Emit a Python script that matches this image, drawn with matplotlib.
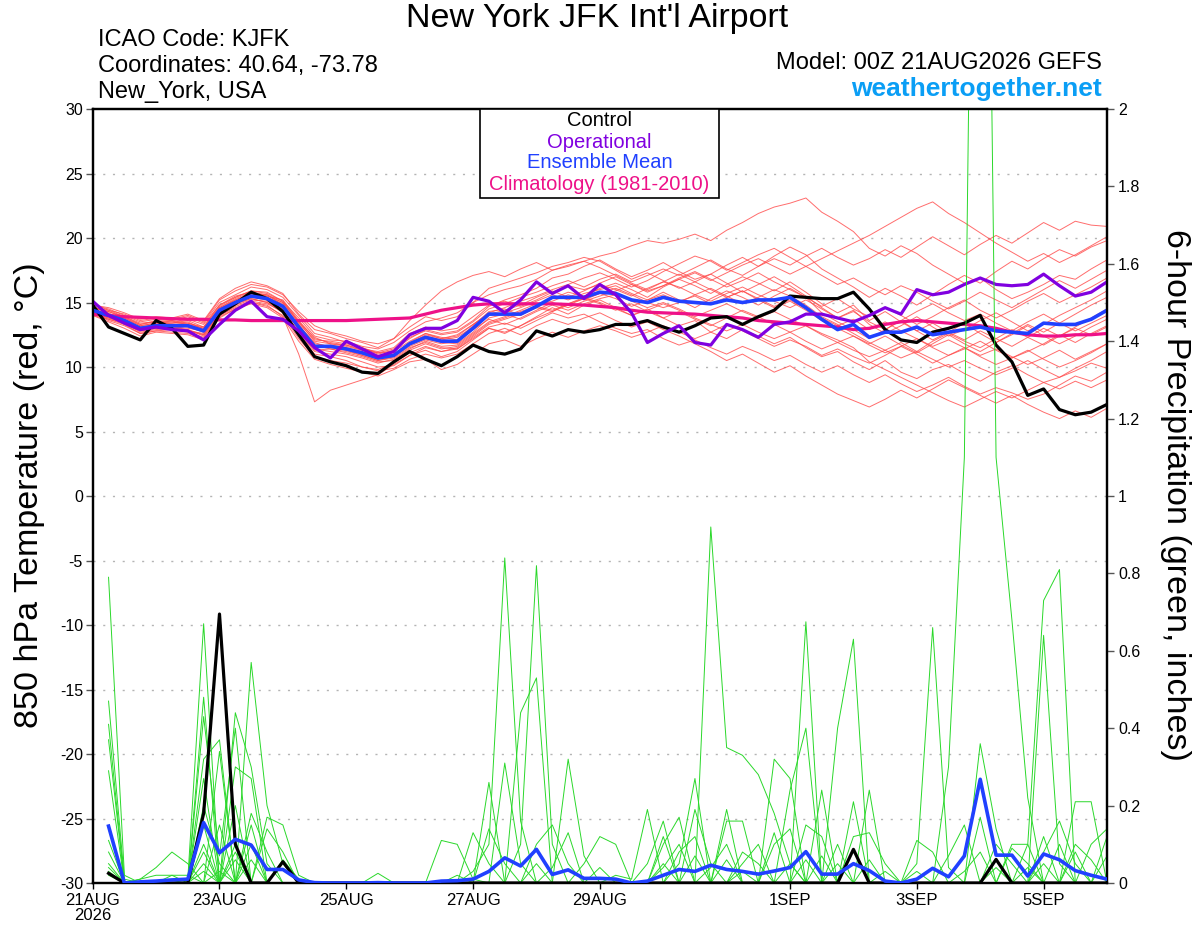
import numpy as np
import matplotlib.pyplot as plt
from matplotlib.patches import Rectangle

plt.rcParams['font.family'] = ['Liberation Sans', 'DejaVu Sans']

"""
DATA  (6-hourly, hour 0 = 00Z 21AUG2026)
"""

hours = np.arange(0, 385, 6)
precip_hours = hours[1:]

x_tick_hours = [0, 48, 96, 144, 192, 264, 312, 360]
x_tick_labels = ['21AUG\n2026', '23AUG', '25AUG', '27AUG', '29AUG', '1SEP', '3SEP', '5SEP']
t_ticks = list(range(-30, 31, 5))
p_ticks = [0, 0.2, 0.4, 0.6, 0.8, 1.0, 1.2, 1.4, 1.6, 1.8, 2.0]
p_tick_labels = ['0', '0.2', '0.4', '0.6', '0.8', '1', '1.2', '1.4', '1.6', '1.8', '2']

control_t = [14.8, 13.1, 12.6, 12.1, 13.6, 13.0, 11.6, 11.7, 14.1, 14.9, 15.8, 15.3, 14.3,
             12.5, 10.8, 10.4, 10.1, 9.6, 9.5, 10.4, 11.2, 10.6, 10.1, 10.8, 11.7,
             11.2, 11.0, 11.4, 12.8, 12.4, 12.9, 12.7, 12.9,
             13.3, 13.3, 13.6, 13.1, 12.7, 13.2, 13.8, 13.9,
             13.3, 13.9, 14.4, 15.5, 15.4, 15.3, 15.3, 15.8,
             14.5, 12.9, 12.1, 11.9, 12.7, 13.0, 13.4, 14.0,
             11.7, 10.4, 7.8, 8.3, 6.7, 6.3, 6.5, 7.1]

oper_t = [15.1, 14.0, 13.4, 12.9, 13.1, 12.9, 12.8, 12.1, 13.3, 14.4, 15.1, 13.9, 13.7,
          12.8, 11.5, 10.7, 12.0, 11.4, 10.8, 11.2, 12.5, 13.0, 13.0, 13.6, 15.4,
          15.1, 14.2, 15.2, 16.6, 15.7, 16.3, 15.3, 16.4,
          15.6, 14.2, 11.9, 12.6, 13.2, 11.9, 11.7, 13.3,
          12.9, 12.3, 13.3, 13.5, 14.1, 14.1, 13.8, 13.5,
          14.0, 14.6, 14.1, 16.0, 15.6, 15.8, 16.4, 16.9,
          16.4, 16.3, 16.4, 17.2, 16.3, 15.5, 15.8, 16.6]

mean_t = [14.4, 14.0, 13.6, 13.0, 13.2, 13.2, 13.2, 12.8, 14.4, 15.0, 15.5, 15.3, 14.7,
          13.1, 11.6, 11.6, 11.4, 11.1, 10.7, 10.9, 11.8, 12.3, 12.0, 12.0, 13.0,
          14.1, 14.1, 14.1, 14.7, 15.4, 15.4, 15.4, 15.8,
          15.7, 15.2, 15.0, 15.4, 15.1, 15.0, 14.9, 15.2,
          15.0, 15.2, 15.2, 15.4, 14.6, 13.7, 12.9, 13.3,
          12.3, 12.7, 12.7, 13.1, 12.5, 12.7, 12.9, 13.1,
          12.8, 12.7, 12.6, 13.4, 13.3, 13.3, 13.7, 14.4]

clim_t = [14.1, 14.0, 13.9, 13.85, 13.8, 13.75, 13.7, 13.7, 13.65, 13.65,
          13.6, 13.6, 13.6, 13.6, 13.6, 13.6, 13.6, 13.65, 13.7, 13.75,
          13.8, 14.1, 14.4, 14.6, 14.8, 14.9, 14.9, 14.9, 14.9, 14.9,
          14.85, 14.8, 14.7, 14.6, 14.4, 14.25, 14.2, 14.15, 14.1, 14.0,
          13.9, 13.8, 13.6, 13.5, 13.4, 13.3, 13.2, 13.1, 12.9, 13.0,
          13.3, 13.5, 13.6, 13.5, 13.4, 13.3, 13.2, 13.0, 12.7, 12.5,
          12.4, 12.4, 12.5, 12.5, 12.6]

temp_members = [
    [14.6, 14.3, 13.9, 13.4, 13.5, 13.4, 13.6, 13.1, 14.8, 15.4, 15.9, 15.8, 15.1,
     13.8, 12.4, 12.1, 12.0, 11.6, 11.4, 11.9, 12.8, 13.5, 13.8, 14.2, 15.0,
     15.6, 16.0, 16.3, 16.8, 17.5, 17.9, 18.2, 18.6, 18.9, 19.4, 19.8, 19.6,
     19.9, 20.3, 19.8, 20.6, 21.2, 21.9, 22.4, 22.7, 23.1, 22.0, 21.3, 20.5,
     19.2, 18.6, 19.4, 18.8, 17.9, 17.2, 16.5, 16.9, 16.0, 15.3, 15.8, 16.4, 17.1, 16.8, 17.6, 18.3],
    [14.2, 13.6, 13.2, 12.6, 12.8, 12.9, 12.7, 12.3, 14.0, 14.6, 15.0, 14.8, 13.9,
     11.0, 7.3, 8.2, 8.6, 9.0, 9.4, 10.2, 10.9, 11.3, 10.8, 11.2, 12.1,
     13.0, 12.6, 13.2, 13.9, 14.6, 14.1, 14.8, 15.2, 14.6, 14.0, 14.5, 13.8,
     13.2, 13.6, 12.7, 12.2, 12.9, 12.4, 11.8, 12.3, 11.5, 10.8, 11.2, 10.4,
     9.8, 10.5, 9.6, 9.1, 9.8, 10.2, 9.5, 8.9, 9.6, 10.1, 9.4, 8.8, 9.2, 9.9, 10.5, 11.2],
    [14.8, 14.5, 14.0, 13.5, 13.7, 13.6, 13.9, 13.4, 15.0, 15.6, 16.2, 16.0, 15.4,
     14.0, 12.6, 12.3, 11.9, 11.5, 11.0, 11.3, 12.2, 12.9, 12.6, 12.8, 13.6,
     14.7, 15.2, 15.6, 16.1, 16.9, 17.2, 17.8, 18.3, 17.6, 17.0, 17.5, 18.1,
     17.4, 16.8, 17.2, 17.9, 18.5, 17.8, 18.6, 19.3, 18.7, 17.6, 16.9, 16.2,
     15.4, 16.1, 15.5, 14.8, 15.6, 16.4, 17.1, 16.5, 17.4, 18.2, 17.6, 18.4, 19.1, 18.6, 19.3, 19.8],
    [14.3, 13.9, 13.3, 12.8, 13.0, 13.1, 12.9, 12.5, 14.1, 14.9, 15.3, 15.0, 14.2,
     12.5, 11.0, 10.8, 10.5, 10.0, 9.8, 10.3, 11.1, 11.6, 11.2, 11.4, 12.3,
     13.1, 13.4, 13.0, 13.6, 14.2, 13.8, 14.1, 13.5, 13.0, 12.6, 12.9, 12.2,
     11.7, 12.1, 11.5, 11.0, 11.6, 11.1, 10.5, 10.9, 10.2, 9.6, 10.1, 9.4,
     8.8, 9.4, 8.7, 8.1, 8.6, 9.2, 8.5, 7.9, 8.4, 8.0, 7.5, 7.9, 8.6, 9.3, 8.9, 9.6],
    [14.5, 14.1, 13.8, 13.2, 13.4, 13.5, 13.3, 13.0, 14.6, 15.2, 15.7, 15.5, 15.0,
     13.5, 12.0, 11.8, 11.6, 11.3, 10.9, 11.0, 11.9, 12.6, 12.3, 12.1, 13.2,
     14.3, 14.5, 14.0, 14.6, 15.3, 15.8, 15.5, 16.1, 16.5, 16.0, 15.4, 16.2,
     16.8, 16.3, 15.7, 16.4, 17.0, 16.5, 15.9, 16.6, 15.8, 14.9, 14.2, 14.8,
     13.6, 14.3, 13.5, 12.8, 13.4, 12.7, 12.1, 12.8, 12.2, 11.6, 12.3, 13.0, 12.4, 13.1, 13.8, 14.5],
    [14.9, 14.4, 14.1, 13.6, 13.8, 13.7, 14.0, 13.5, 15.2, 15.9, 16.4, 16.2, 15.6,
     14.3, 13.2, 12.7, 12.4, 12.0, 11.8, 12.2, 13.1, 13.9, 13.6, 13.9, 15.0,
     16.1, 16.5, 16.9, 17.3, 17.8, 18.1, 18.5, 18.2, 17.5, 16.8, 17.3, 16.7,
     16.1, 16.6, 17.2, 16.5, 15.8, 16.4, 17.0, 16.3, 15.5, 14.6, 13.8, 14.4,
     13.3, 12.6, 13.2, 13.9, 13.1, 12.4, 12.9, 13.6, 14.2, 13.5, 12.8, 13.3, 14.0, 14.6, 15.2, 15.9],
    [14.1, 13.8, 13.5, 12.9, 13.1, 13.0, 12.8, 12.6, 14.2, 14.8, 15.2, 15.1, 14.5,
     12.9, 11.4, 11.2, 11.0, 10.7, 10.3, 10.6, 11.4, 12.0, 11.6, 11.7, 12.6,
     13.5, 13.9, 14.4, 14.9, 15.1, 15.6, 15.2, 15.7, 15.3, 14.7, 15.2, 15.8,
     15.2, 14.6, 15.3, 15.9, 15.4, 14.8, 15.5, 16.1, 15.4, 14.2, 13.5, 12.9,
     12.2, 12.9, 13.6, 12.8, 12.1, 12.7, 13.4, 12.6, 11.9, 12.5, 13.2, 12.4, 11.8, 12.4, 13.1, 13.7],
    [14.7, 14.2, 13.6, 13.1, 13.3, 13.4, 13.5, 12.9, 14.5, 15.1, 15.6, 15.4, 14.9,
     13.2, 11.9, 11.5, 11.3, 11.0, 10.6, 10.8, 11.6, 12.1, 11.8, 12.0, 12.9,
     13.7, 13.3, 13.8, 14.4, 15.0, 14.6, 15.1, 15.5, 15.9, 16.4, 15.8, 16.3,
     16.9, 17.4, 16.8, 16.2, 16.7, 17.3, 16.6, 16.0, 15.4, 14.7, 15.3, 14.5,
     13.9, 14.6, 14.0, 13.3, 13.9, 14.6, 15.2, 14.4, 13.8, 14.4, 15.1, 15.7, 15.0, 15.6, 16.2, 16.9],
    [14.0, 13.5, 13.0, 12.4, 12.7, 12.6, 12.5, 12.1, 13.8, 14.5, 15.0, 14.7, 14.0,
     12.2, 10.8, 10.5, 10.3, 10.0, 9.7, 9.9, 10.6, 11.0, 10.7, 11.0, 11.8,
     12.6, 13.0, 12.5, 13.2, 13.7, 13.3, 13.8, 14.2, 13.6, 13.1, 13.5, 12.9,
     12.4, 11.8, 11.2, 10.5, 11.0, 10.3, 9.6, 10.1, 9.3, 8.6, 7.9, 7.4,
     6.9, 7.5, 8.2, 7.6, 8.3, 9.0, 8.4, 7.8, 7.2, 7.8, 7.1, 6.5, 6.0, 6.6, 6.1, 6.8],
    [14.4, 14.0, 13.7, 13.0, 13.2, 13.3, 13.1, 12.7, 14.3, 15.0, 15.4, 15.2, 14.6,
     13.0, 11.6, 11.7, 11.5, 11.2, 10.8, 10.9, 11.8, 12.4, 12.1, 12.3, 13.1,
     14.0, 14.2, 14.6, 15.1, 15.6, 15.2, 15.7, 16.0, 16.3, 15.7, 15.2, 15.6,
     15.1, 15.5, 14.9, 15.4, 15.9, 15.3, 14.7, 15.2, 14.5, 13.8, 13.2, 13.7,
     12.9, 13.5, 12.8, 12.2, 11.6, 12.1, 11.5, 10.9, 11.4, 10.8, 10.2, 10.7, 11.3, 10.6, 11.2, 11.8],
    [14.6, 14.4, 13.9, 13.3, 13.6, 13.5, 13.7, 13.3, 14.8, 15.5, 15.8, 15.6, 15.0,
     13.4, 12.1, 12.0, 11.8, 11.5, 11.1, 11.4, 12.3, 12.8, 12.5, 12.7, 13.5,
     14.5, 14.9, 15.4, 15.8, 16.3, 16.7, 16.2, 16.8, 17.2, 16.6, 17.1, 17.6,
     17.1, 17.7, 18.3, 17.6, 17.1, 17.8, 18.4, 17.9, 18.6, 19.2, 18.5, 17.9,
     18.4, 19.1, 18.5, 19.3, 20.1, 19.4, 18.7, 19.5, 20.2, 19.6, 20.4, 21.2, 20.6, 21.3, 21.0, 20.9],
    [14.2, 13.7, 13.4, 12.7, 12.9, 13.0, 12.9, 12.4, 14.0, 14.7, 15.1, 14.9, 14.3,
     12.6, 11.2, 11.0, 10.8, 10.4, 10.0, 10.1, 10.9, 11.5, 11.2, 11.5, 12.4,
     13.3, 13.7, 14.1, 14.6, 14.3, 14.8, 15.3, 14.9, 14.4, 14.9, 14.3, 13.8,
     14.3, 13.7, 13.2, 13.8, 14.4, 13.9, 13.3, 12.7, 13.2, 12.5, 11.9, 12.4,
     11.7, 11.1, 11.6, 12.2, 11.5, 10.9, 11.4, 12.0, 11.3, 10.7, 11.2, 11.8, 12.5, 11.9, 12.6, 13.2],
    [14.8, 14.6, 14.2, 13.7, 13.9, 13.8, 14.1, 13.6, 15.3, 16.1, 16.6, 16.3, 15.7,
     14.1, 12.9, 12.6, 12.2, 11.9, 11.5, 12.2, 13.6, 14.8, 15.9, 16.6, 17.1,
     17.4, 17.0, 17.6, 18.1, 17.5, 17.8, 18.2, 17.7, 17.1, 16.5, 16.0, 16.6,
     17.2, 16.6, 16.0, 15.4, 15.9, 15.2, 14.6, 15.1, 14.4, 13.6, 13.0, 12.4,
     11.8, 12.4, 11.7, 11.1, 11.8, 12.5, 11.8, 11.2, 11.9, 12.6, 13.3, 12.7, 13.4, 14.1, 14.8, 15.4],
    [14.3, 14.1, 13.6, 13.1, 13.2, 13.1, 13.0, 12.8, 14.4, 15.1, 15.6, 15.3, 14.7,
     13.1, 11.7, 11.4, 11.2, 10.9, 10.5, 10.7, 11.5, 11.9, 11.5, 11.4, 12.2,
     13.0, 12.7, 13.2, 13.8, 14.3, 14.9, 15.3, 15.7, 16.1, 15.6, 15.0, 14.6,
     15.0, 15.6, 16.1, 15.5, 14.9, 15.4, 16.0, 15.5, 14.8, 13.9, 13.3, 12.6,
     11.9, 11.3, 10.7, 11.2, 10.6, 10.0, 10.5, 9.9, 9.4, 9.9, 10.5, 9.8, 9.2, 9.7, 10.3, 9.9],
    [14.5, 14.0, 13.5, 13.0, 13.1, 13.2, 13.3, 12.9, 14.6, 15.3, 15.8, 15.5, 15.2,
     13.6, 12.2, 11.9, 11.7, 11.4, 11.2, 11.5, 12.6, 13.1, 12.8, 13.0, 13.9,
     14.8, 15.1, 14.7, 15.2, 15.8, 16.3, 16.0, 16.4, 16.0, 15.5, 16.1, 16.6,
     16.2, 15.6, 15.1, 15.7, 16.2, 15.6, 15.1, 14.6, 15.2, 14.5, 13.8, 14.3,
     13.5, 12.9, 13.6, 14.3, 14.9, 14.2, 13.6, 14.1, 13.4, 12.8, 13.5, 14.1, 13.4, 12.8, 13.4, 14.0],
    [14.0, 13.7, 13.3, 12.6, 12.8, 12.7, 12.6, 12.2, 13.9, 14.5, 14.9, 14.6, 13.8,
     12.0, 10.6, 10.2, 9.9, 9.6, 9.3, 9.8, 10.4, 10.6, 9.8, 10.2, 11.0,
     11.8, 12.1, 11.6, 12.2, 12.7, 12.3, 12.8, 13.2, 12.8, 12.3, 12.7, 13.2,
     12.7, 12.2, 12.7, 13.3, 12.8, 12.2, 11.6, 12.1, 11.6, 10.9, 11.4, 10.8,
     10.3, 10.9, 11.6, 11.0, 10.3, 10.9, 11.5, 10.8, 10.2, 10.7, 11.3, 10.6, 10.0, 10.5, 11.1, 11.8],
    [14.6, 14.3, 13.8, 13.3, 13.5, 13.6, 13.4, 13.1, 14.7, 15.4, 15.9, 15.7, 15.1,
     13.5, 12.3, 11.8, 11.7, 11.3, 11.1, 11.2, 12.0, 12.6, 12.2, 12.5, 13.3,
     14.2, 14.6, 15.1, 15.5, 16.0, 16.4, 16.9, 17.3, 16.8, 16.2, 16.7, 17.4,
     18.0, 18.6, 18.2, 17.5, 18.1, 18.7, 19.2, 18.5, 17.8, 17.1, 16.4, 16.9,
     16.2, 15.6, 16.3, 15.8, 15.1, 14.5, 15.1, 15.8, 15.2, 14.6, 15.3, 16.0, 16.7, 16.1, 16.8, 17.5],
    [14.4, 13.9, 13.4, 12.9, 13.0, 12.9, 13.2, 12.7, 14.4, 15.0, 15.5, 15.3, 14.6,
     13.0, 11.5, 11.6, 11.4, 11.1, 10.7, 11.0, 11.7, 12.2, 11.9, 11.8, 12.7,
     13.8, 14.1, 13.7, 14.3, 14.8, 14.4, 14.9, 15.3, 15.6, 15.1, 14.6, 15.0,
     14.5, 13.9, 14.4, 14.9, 14.3, 13.8, 14.3, 13.7, 13.2, 12.6, 12.1, 11.5,
     10.4, 9.8, 9.2, 8.6, 8.0, 7.4, 6.9, 7.5, 8.1, 7.6, 8.2, 8.8, 8.3, 8.9, 8.4, 9.0],
    [14.7, 14.1, 13.7, 13.2, 13.4, 13.3, 13.4, 13.0, 14.5, 15.2, 15.7, 15.6, 14.8,
     13.3, 11.8, 11.6, 11.3, 10.9, 10.5, 10.8, 11.8, 12.5, 12.2, 12.4, 13.3,
     14.1, 14.4, 14.8, 15.4, 15.9, 15.4, 15.9, 16.5, 17.0, 16.4, 15.9, 16.3,
     16.8, 17.3, 16.7, 17.3, 17.9, 18.4, 17.8, 17.2, 17.8, 18.4, 19.0, 19.6,
     20.2, 20.9, 21.6, 22.3, 22.8, 21.9, 21.2, 20.4, 19.6, 18.9, 18.2, 18.8, 18.1, 18.7, 19.4, 20.1],
    [14.3, 13.8, 13.4, 12.8, 13.0, 12.9, 12.8, 12.5, 14.2, 14.9, 15.3, 15.0, 14.4,
     12.7, 11.3, 11.4, 11.1, 10.8, 10.4, 10.5, 11.3, 11.8, 11.4, 11.6, 12.5,
     13.4, 13.8, 14.3, 14.7, 14.4, 14.9, 15.4, 15.0, 14.5, 14.0, 14.4, 14.9,
     14.4, 13.8, 13.3, 12.8, 13.3, 12.7, 12.2, 12.7, 12.0, 11.4, 11.9, 11.3,
     10.8, 11.3, 11.9, 11.2, 12.0, 12.6, 12.0, 11.5, 12.2, 12.9, 12.3, 11.7, 12.4, 13.0, 12.5, 13.1],
]

# precip, inches per 6 h, hours 6..384
control_p = [0.025, 0, 0, 0, 0, 0, 0.18, 0.695,
             0.10, 0, 0, 0.055, 0, 0, 0, 0,
             0, 0, 0, 0, 0, 0, 0, 0,
             0, 0, 0, 0, 0, 0, 0, 0,
             0, 0, 0, 0, 0, 0, 0, 0,
             0, 0, 0, 0, 0, 0, 0, 0.087,
             0, 0, 0, 0, 0, 0, 0, 0,
             0.061, 0, 0, 0, 0, 0, 0, 0]

mean_p = [0.147, 0.0, 0.003, 0.005, 0.008, 0.01, 0.156, 0.078,
          0.113, 0.098, 0.035, 0.035, 0.008, 0.001, 0, 0,
          0, 0.001, 0, 0, 0, 0.005, 0.006, 0.01,
          0.03, 0.065, 0.044, 0.087, 0.022, 0.034, 0.012, 0.012,
          0.01, 0.0, 0.005, 0.02, 0.035, 0.03, 0.046, 0.035,
          0.03, 0.023, 0.031, 0.04, 0.081, 0.023, 0.023, 0.05,
          0.032, 0.005, 0.0, 0.01, 0.038, 0.016, 0.07, 0.268,
          0.072, 0.072, 0.018, 0.075, 0.06, 0.032, 0.02, 0.01]

precip_members = [
    [0.79, 0.02, 0, 0, 0, 0.01, 0.67, 0,   0, 0.06, 0, 0, 0, 0, 0, 0,
     0, 0, 0, 0, 0, 0, 0, 0,   0, 0, 0, 0, 0, 0, 0, 0,
     0.02, 0.01, 0.19, 0, 0, 0, 0, 0,   0, 0, 0, 0, 0, 0, 0, 0,
     0, 0, 0, 0, 0, 0, 0, 0.36,   0.14, 0, 0, 0, 0, 0, 0, 0],
    [0.47, 0.01, 0, 0, 0, 0, 0.48, 0,   0.2, 0, 0, 0, 0, 0, 0, 0,
     0, 0, 0, 0, 0, 0, 0, 0,   0, 0, 0, 0, 0, 0, 0, 0,
     0, 0, 0.05, 0.16, 0, 0, 0, 0,   0, 0, 0, 0, 0, 0, 0, 0,
     0, 0, 0, 0, 0, 0, 0, 0.17,   0, 0, 0, 0, 0, 0, 0, 0],
    [0.41, 0, 0, 0, 0, 0, 0.43, 0.07,   0.4, 0, 0, 0, 0, 0, 0, 0,
     0, 0, 0, 0, 0, 0, 0, 0,   0, 0, 0, 0, 0, 0, 0, 0,
     0, 0, 0, 0.1, 0.17, 0, 0, 0,   0, 0, 0, 0, 0, 0, 0, 0,
     0, 0, 0, 0, 0, 0, 0, 0,   0.1, 0.05, 0, 0, 0, 0, 0, 0],
    [0.37, 0, 0, 0, 0, 0, 0.32, 0.37,   0, 0.15, 0, 0, 0, 0, 0, 0,
     0, 0, 0, 0, 0, 0, 0, 0,   0, 0, 0, 0, 0, 0, 0, 0,
     0, 0, 0, 0, 0.05, 0.27, 0, 0,   0, 0, 0, 0, 0, 0, 0, 0,
     0, 0, 0, 0, 0, 0, 0, 0,   0, 0.1, 0.1, 0, 0, 0, 0, 0],
    [0.29, 0, 0, 0, 0, 0, 0.27, 0,   0.1, 0, 0, 0, 0, 0, 0, 0,
     0, 0, 0, 0, 0, 0, 0, 0,   0, 0, 0, 0, 0, 0, 0, 0,
     0, 0, 0, 0, 0, 0.19, 0.05, 0,   0, 0, 0, 0, 0, 0, 0, 0,
     0, 0, 0, 0, 0, 0, 0, 0,   0, 0, 0.1, 0.73, 0.81, 0, 0, 0],
    [0.14, 0, 0, 0, 0, 0, 0.2, 0.05,   0, 0, 0, 0, 0, 0, 0, 0,
     0, 0, 0, 0, 0, 0, 0, 0,   0, 0, 0, 0, 0, 0, 0, 0,
     0, 0, 0, 0, 0, 0, 0.92, 0.35,   0.33, 0.28, 0.18, 0.05, 0, 0, 0, 0,
     0, 0, 0, 0, 0, 0, 0, 0,   0, 0, 0, 0.64, 0.05, 0, 0, 0],
    [0.11, 0, 0, 0, 0, 0, 0.15, 0,   0.08, 0, 0, 0, 0, 0, 0, 0,
     0, 0, 0, 0, 0, 0, 0, 0,   0, 0, 0, 0, 0, 0, 0, 0,
     0, 0, 0, 0, 0, 0, 0, 0.19,   0, 0, 0.32, 0.27, 0, 0, 0, 0,
     0, 0, 0, 0, 0, 0, 0, 0,   0, 0, 0, 0.08, 0.16, 0.05, 0, 0],
    [0.08, 0, 0, 0, 0, 0, 0.1, 0,   0, 0, 0, 0, 0, 0, 0, 0,
     0, 0.025, 0, 0, 0, 0, 0, 0,   0, 0, 0, 0, 0, 0, 0, 0,
     0, 0, 0, 0, 0, 0, 0, 0.16,   0.16, 0, 0, 0, 0.675, 0, 0, 0,
     0, 0, 0, 0, 0, 0, 0, 0,   0, 0, 0, 0, 0, 0.21, 0.21, 0],
    [0.05, 0, 0, 0, 0, 0, 0.08, 0,   0, 0, 0, 0, 0, 0, 0, 0,
     0, 0, 0, 0, 0, 0.11, 0.1, 0.01,   0, 0, 0, 0, 0, 0, 0, 0,
     0, 0, 0, 0, 0, 0, 0, 0,   0.05, 0.1, 0, 0, 0, 0, 0, 0,
     0, 0, 0, 0, 0, 0, 0, 0,   0, 0, 0, 0, 0, 0, 0.1, 0.14],
    [0.04, 0, 0, 0, 0, 0, 0.05, 0,   0, 0.1, 0, 0, 0, 0, 0, 0,
     0, 0, 0, 0, 0, 0, 0, 0.13,   0.05, 0, 0, 0, 0, 0, 0, 0,
     0, 0, 0, 0.12, 0, 0, 0, 0.06,   0, 0, 0.13, 0, 0, 0, 0, 0,
     0, 0, 0, 0, 0, 0, 0, 0,   0, 0, 0, 0, 0, 0, 0, 0.07],
    [0.03, 0, 0, 0, 0, 0, 0.03, 0,   0, 0, 0, 0, 0, 0, 0, 0,
     0, 0, 0, 0, 0, 0, 0, 0,   0.14, 0.05, 0, 0, 0, 0, 0, 0,
     0, 0, 0, 0, 0.08, 0.12, 0, 0,   0, 0, 0, 0.24, 0.4, 0, 0, 0,
     0.06, 0, 0, 0, 0, 0, 0, 0,   0, 0, 0, 0, 0, 0, 0, 0],
    [0.02, 0, 0, 0, 0, 0, 0, 0.34,   0, 0, 0, 0, 0, 0, 0, 0,
     0, 0, 0, 0, 0, 0, 0.02, 0,   0.26, 0, 0, 0, 0, 0, 0, 0,
     0, 0, 0, 0, 0, 0, 0.04, 0.1,   0, 0, 0, 0, 0.15, 0.12, 0, 0,
     0, 0.03, 0, 0, 0, 0, 0, 0,   0, 0, 0, 0.12, 0, 0, 0, 0],
    [0, 0, 0.01, 0.02, 0.02, 0, 0, 0.15,   0, 0, 0, 0, 0, 0, 0, 0,
     0, 0, 0, 0, 0, 0, 0, 0.03,   0.1, 0.84, 0.16, 0, 0, 0, 0, 0,
     0, 0, 0, 0, 0, 0, 0, 0,   0.08, 0.05, 0, 0, 0, 0.24, 0, 0.21,
     0, 0, 0, 0, 0, 0, 0, 0,   0, 0.09, 0.05, 0, 0, 0, 0, 0],
    [0, 0, 0.01, 0.04, 0.08, 0.05, 0, 0,   0.44, 0.3, 0.05, 0, 0, 0, 0, 0,
     0, 0, 0, 0, 0, 0, 0, 0,   0, 0.31, 0.05, 0, 0, 0, 0, 0,
     0, 0, 0, 0.05, 0, 0, 0, 0,   0, 0, 0, 0, 0, 0, 0.4, 0.63,
     0, 0, 0, 0.03, 0, 0, 0, 0,   0, 0, 0, 0, 0, 0.1, 0.06, 0],
    [0, 0, 0, 0, 0.02, 0.02, 0, 0.03,   0, 0.57, 0.2, 0.05, 0, 0, 0, 0,
     0, 0, 0, 0, 0, 0, 0, 0,   0, 0, 0.44, 0.53, 0, 0, 0, 0,
     0, 0, 0, 0, 0, 0, 0, 0,   0, 0, 0.1, 0.14, 0, 0, 0.1, 0,
     0.24, 0, 0, 0, 0, 0, 0.03, 0.08,   0, 0, 0, 0, 0, 0, 0, 0.12],
    [0, 0, 0, 0, 0, 0, 0, 0,   0.3, 0.27, 0, 0, 0, 0, 0, 0,
     0, 0, 0, 0, 0, 0, 0, 0,   0, 0, 0.1, 0.82, 0.1, 0, 0, 0,
     0, 0, 0, 0.04, 0.1, 0, 0, 0,   0, 0, 0, 0, 0, 0, 0, 0.12,
     0.13, 0.05, 0, 0, 0, 0, 0, 0,   0.06, 0, 0, 0, 0.1, 0, 0, 0],
    [0, 0, 0, 0, 0, 0, 0, 0,   0.06, 0, 0.17, 0.15, 0.02, 0, 0, 0,
     0, 0, 0, 0, 0, 0, 0, 0,   0, 0, 0, 0.1, 0.15, 0.05, 0, 0,
     0, 0, 0, 0, 0, 0.07, 0, 0,   0, 0, 0, 0, 0.06, 0, 0, 0,
     0, 0, 0, 0.11, 0.08, 0, 0, 0,   0, 0, 0.04, 0, 0, 0, 0, 0],
    [0, 0, 0, 0, 0, 0, 0, 0,   0, 0.18, 0.08, 0, 0, 0, 0, 0,
     0, 0, 0, 0, 0, 0, 0, 0,   0, 0, 0, 0.05, 0, 0.32, 0.07, 0,
     0, 0, 0, 0, 0, 0, 0, 0,   0.03, 0, 0, 0, 0, 0.07, 0, 0,
     0, 0, 0, 0.05, 0.66, 0.04, 0, 0,   0, 0, 0, 0.05, 0, 0, 0, 0],
    [0, 0, 0, 0, 0, 0, 0, 0,   0, 0, 0.14, 0.08, 0, 0, 0, 0,
     0, 0, 0, 0, 0, 0, 0, 0,   0, 0, 0, 0, 0.04, 0.13, 0, 0.04,
     0, 0, 0, 0, 0, 0, 0, 0,   0, 0, 0, 0, 0, 0, 0, 0,
     0, 0, 0, 0, 0, 0.3, 1.1, 4.5,   1.1, 0.68, 0.22, 0, 0, 0, 0, 0],
    [0, 0, 0, 0, 0, 0, 0, 0,   0, 0, 0, 0.06, 0.01, 0, 0, 0,
     0, 0, 0, 0, 0, 0, 0, 0,   0, 0, 0, 0, 0, 0, 0.05, 0.12,
     0.1, 0, 0, 0, 0, 0, 0, 0,   0, 0, 0, 0.05, 0, 0, 0.05, 0,
     0, 0, 0, 0, 0, 0.07, 0.15, 0,   0.04, 0, 0, 0, 0, 0.08, 0, 0],
]

"""
PLOT
"""

fig = plt.figure(figsize=(12, 9.27), dpi=100)
ax = fig.add_axes([0.07725, 0.04746, 0.84525, 0.83495])
ax2 = ax.twinx()

ax.set_xlim(0, 384)
ax.set_ylim(-30, 30)
ax2.set_ylim(0, 2)

for v in t_ticks[1:-1]:
    ax.axhline(v, color='#b4b4b4', lw=1, ls=(0, (1.5, 5.5)), zorder=0.5)

for m in temp_members:
    ax.plot(hours, m, color='#ff4848', lw=0.7, alpha=0.8, zorder=2)

ax.plot(hours, clim_t, color='#ee1188', lw=2.3, zorder=4)
ax.plot(hours, control_t, color='black', lw=2.3, zorder=5)
ax.plot(hours, mean_t, color='#2040ff', lw=2.6, zorder=6)
ax.plot(hours, oper_t, color='#8000e0', lw=2.3, zorder=7)

for m in precip_members:
    ax2.plot(precip_hours, m, color='#2ad82a', lw=0.7, zorder=2)
ax2.plot(precip_hours, control_p, color='black', lw=2.3, zorder=5)
ax2.plot(precip_hours, mean_p, color='#2040ff', lw=2.6, zorder=6)

ax.set_xticks(x_tick_hours)
ax.set_xticklabels(x_tick_labels, fontsize=12, linespacing=1.0)
ax.set_yticks(t_ticks)
ax.set_yticklabels([str(t) for t in t_ticks], fontsize=11.5)
ax2.set_yticks(p_ticks)
ax2.set_yticklabels(p_tick_labels, fontsize=11.5)

ax.tick_params(axis='x', direction='out', length=4, width=1, pad=3)
ax.tick_params(axis='y', direction='out', length=5, width=1, color='#555555', pad=2)
ax2.tick_params(axis='y', direction='out', length=5, width=1, color='#555555', pad=3)

for a in (ax, ax2):
    for s in a.spines.values():
        s.set_linewidth(1.6)

# legend box
fig.add_artist(Rectangle((480 / 1200, 1 - 198 / 927), 239 / 1200, 89 / 927,
                         transform=fig.transFigure, facecolor='white',
                         edgecolor='black', lw=1.2, zorder=10))
legend_items = [('Control', 'black', 121), ('Operational', '#8000e0', 142),
                ('Ensemble Mean', '#2040ff', 163), ('Climatology (1981-2010)', '#ee1188', 185)]
for txt, col, ypix in legend_items:
    fig.text(599.5 / 1200, 1 - ypix / 927, txt, color=col, fontsize=14.5,
             ha='center', va='center', zorder=11)

# header text
fig.text(597 / 1200, 1 - 18 / 927, "New York JFK Int'l Airport", fontsize=24.5,
         ha='center', va='center')
fig.text(98 / 1200, 1 - 40 / 927, 'ICAO Code: KJFK', fontsize=17, ha='left', va='center')
fig.text(98 / 1200, 1 - 66 / 927, 'Coordinates: 40.64, -73.78', fontsize=17, ha='left', va='center')
fig.text(98 / 1200, 1 - 92 / 927, 'New_York, USA', fontsize=17, ha='left', va='center')
fig.text(1102 / 1200, 1 - 63 / 927, 'Model: 00Z 21AUG2026 GEFS', fontsize=17,
         ha='right', va='center')
fig.text(1102 / 1200, 1 - 89 / 927, 'weathertogether.net', fontsize=19, fontweight='bold',
         color='#0a9ef5', ha='right', va='center')

fig.text(30 / 1200, 1 - 495 / 927, '850 hPa Temperature (red, °C)', fontsize=24.5,
         rotation=90, ha='center', va='center')
fig.text(1175 / 1200, 1 - 495 / 927, '6-hour Precipitation (green, inches)', fontsize=24.5,
         rotation=-90, ha='center', va='center')

fig.savefig('out.png', dpi=100)
